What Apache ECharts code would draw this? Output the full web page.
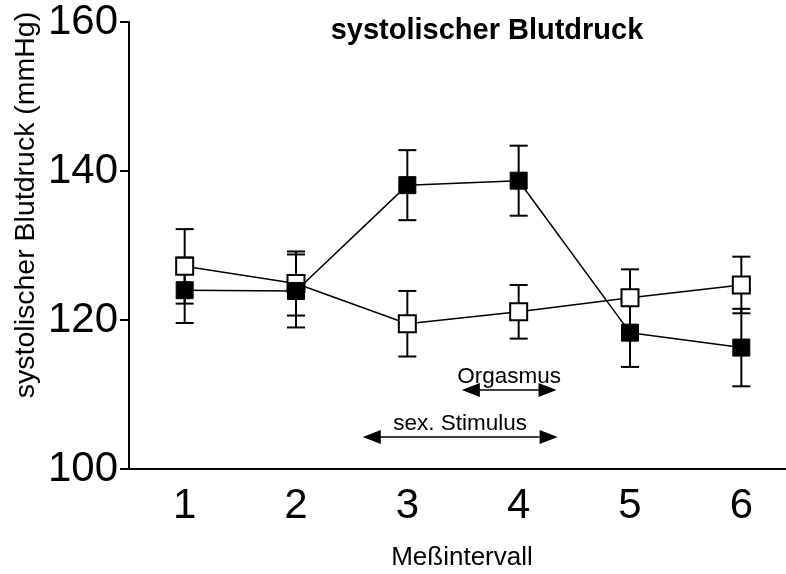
<!DOCTYPE html>
<html>
<head>
<meta charset="utf-8">
<script src="https://cdn.jsdelivr.net/npm/echarts@6/dist/echarts.min.js"></script>
<style>
  html, body { margin: 0; padding: 0; background: #fff; }
  #chart { width: 786px; height: 574px; }
</style>
</head>
<body>
<div id="chart"></div>
<script>
// Measurement intervals
const intervals = ['1', '2', '3', '4', '5', '6'];

// Group with filled markers: mean and SEM (mmHg)
const filledMean = [124.0, 123.9, 138.1, 138.7, 118.3, 116.3];
const filledSem  = [4.4, 4.9, 4.7, 4.7, 4.6, 5.2];

// Group with open markers: mean and SEM (mmHg)
const openMean = [127.2, 124.9, 119.5, 121.1, 123.0, 124.7];
const openSem  = [5.0, 4.3, 4.4, 3.6, 3.8, 3.8];

// Y axis ticks
const yTicks = [100, 120, 140, 160];

// Phase annotations (double arrows), x in interval units
const phaseLabels = ['Orgasmus', 'sex. Stimulus'];
const phaseFrom   = [3.49, 2.60];
const phaseTo     = [4.34, 4.35];
const phaseY      = [110.6, 104.3];

const FONT = '"Liberation Sans", Arial, sans-serif';

function errData(mean, sem) {
  return mean.map((m, i) => [i, m + sem[i], m - sem[i]]);
}

function renderErr(params, api) {
  const x = api.value(0);
  const pHi = api.coord([x, api.value(1)]);
  const pLo = api.coord([x, api.value(2)]);
  const w = 9;
  const style = { stroke: '#000', lineWidth: 2 };
  return {
    type: 'group',
    children: [
      { type: 'line', shape: { x1: pHi[0], y1: pHi[1], x2: pLo[0], y2: pLo[1] }, style },
      { type: 'line', shape: { x1: pHi[0] - w, y1: pHi[1], x2: pHi[0] + w, y2: pHi[1] }, style },
      { type: 'line', shape: { x1: pLo[0] - w, y1: pLo[1], x2: pLo[0] + w, y2: pLo[1] }, style }
    ]
  };
}

function renderArrow(params, api) {
  const a = api.coord([api.value(0), api.value(2)]);
  const b = api.coord([api.value(1), api.value(2)]);
  const len = 18, half = 7;
  const label = phaseLabels[params.dataIndex];
  return {
    type: 'group',
    children: [
      { type: 'line', shape: { x1: a[0] + len - 2, y1: a[1], x2: b[0] - len + 2, y2: b[1] },
        style: { stroke: '#000', lineWidth: 1.5 } },
      { type: 'polygon', shape: { points: [[a[0], a[1]], [a[0] + len, a[1] - half], [a[0] + len, a[1] + half]] },
        style: { fill: '#000' } },
      { type: 'polygon', shape: { points: [[b[0], b[1]], [b[0] - len, b[1] - half], [b[0] - len, b[1] + half]] },
        style: { fill: '#000' } },
      { type: 'text', x: (a[0] + b[0]) / 2, y: a[1] - 2,
        style: { text: label, fill: '#000', font: '22.5px ' + FONT, textAlign: 'center', textVerticalAlign: 'bottom' } }
    ]
  };
}

const chart = echarts.init(document.getElementById('chart'), null, { renderer: 'canvas' });

chart.setOption({
  backgroundColor: '#fff',
  animation: false,
  title: {
    text: 'systolischer Blutdruck',
    left: 482, top: 11, textAlign: 'center',
    textStyle: { fontFamily: FONT, fontWeight: 'bold', fontSize: 29, color: '#000' }
  },
  // plot area continues past the right edge of the canvas
  grid: { left: 129, width: 668, top: 22, height: 447, containLabel: false, outerBoundsMode: 'none' },
  xAxis: [
    {
      type: 'category',
      data: intervals,
      boundaryGap: true,
      axisLine: { lineStyle: { color: '#000', width: 2 } },
      axisTick: { alignWithLabel: true, length: 9, lineStyle: { color: '#000', width: 2 } },
      axisLabel: { color: '#000', fontFamily: FONT, fontSize: 42, margin: 16 },
      splitLine: { show: false }
    },
    {
      type: 'value', min: 0.5, max: 6.5, show: false
    }
  ],
  yAxis: {
    type: 'value',
    min: yTicks[0], max: yTicks[yTicks.length - 1], interval: 20,
    axisLine: { show: true, lineStyle: { color: '#000', width: 2 } },
    axisTick: { show: true, length: 9, lineStyle: { color: '#000', width: 2 } },
    axisLabel: { color: '#000', fontFamily: FONT, fontSize: 42, margin: 11 },
    splitLine: { show: false }
  },
  graphic: [
    {
      type: 'text', x: 26, y: 205, rotation: Math.PI / 2,
      style: { text: 'systolischer Blutdruck (mmHg)', fill: '#000', font: '28.5px ' + FONT,
               textAlign: 'center', textVerticalAlign: 'middle' }
    },
    {
      type: 'text', x: 462, y: 558,
      style: { text: 'Meßintervall', fill: '#000', font: '26px ' + FONT,
               textAlign: 'center', textVerticalAlign: 'middle' }
    }
  ],
  series: [
    { type: 'custom', name: 'errOpen', renderItem: renderErr, data: errData(openMean, openSem), z: 1, silent: true },
    { type: 'custom', name: 'errFilled', renderItem: renderErr, data: errData(filledMean, filledSem), z: 1, silent: true },
    {
      type: 'line', name: 'open', data: openMean, z: 3,
      symbol: 'rect', symbolSize: 17, showAllSymbol: true,
      lineStyle: { color: '#000', width: 1.5 },
      itemStyle: { color: '#fff', borderColor: '#000', borderWidth: 2 }
    },
    {
      type: 'line', name: 'filled', data: filledMean, z: 4,
      symbol: 'rect', symbolSize: 17, showAllSymbol: true,
      lineStyle: { color: '#000', width: 1.5 },
      itemStyle: { color: '#000', borderColor: '#000', borderWidth: 1 }
    },
    {
      type: 'custom', name: 'phases', xAxisIndex: 1, renderItem: renderArrow, silent: true,
      data: phaseLabels.map((_, i) => [phaseFrom[i], phaseTo[i], phaseY[i]]), z: 5
    }
  ]
});
</script>
</body>
</html>
